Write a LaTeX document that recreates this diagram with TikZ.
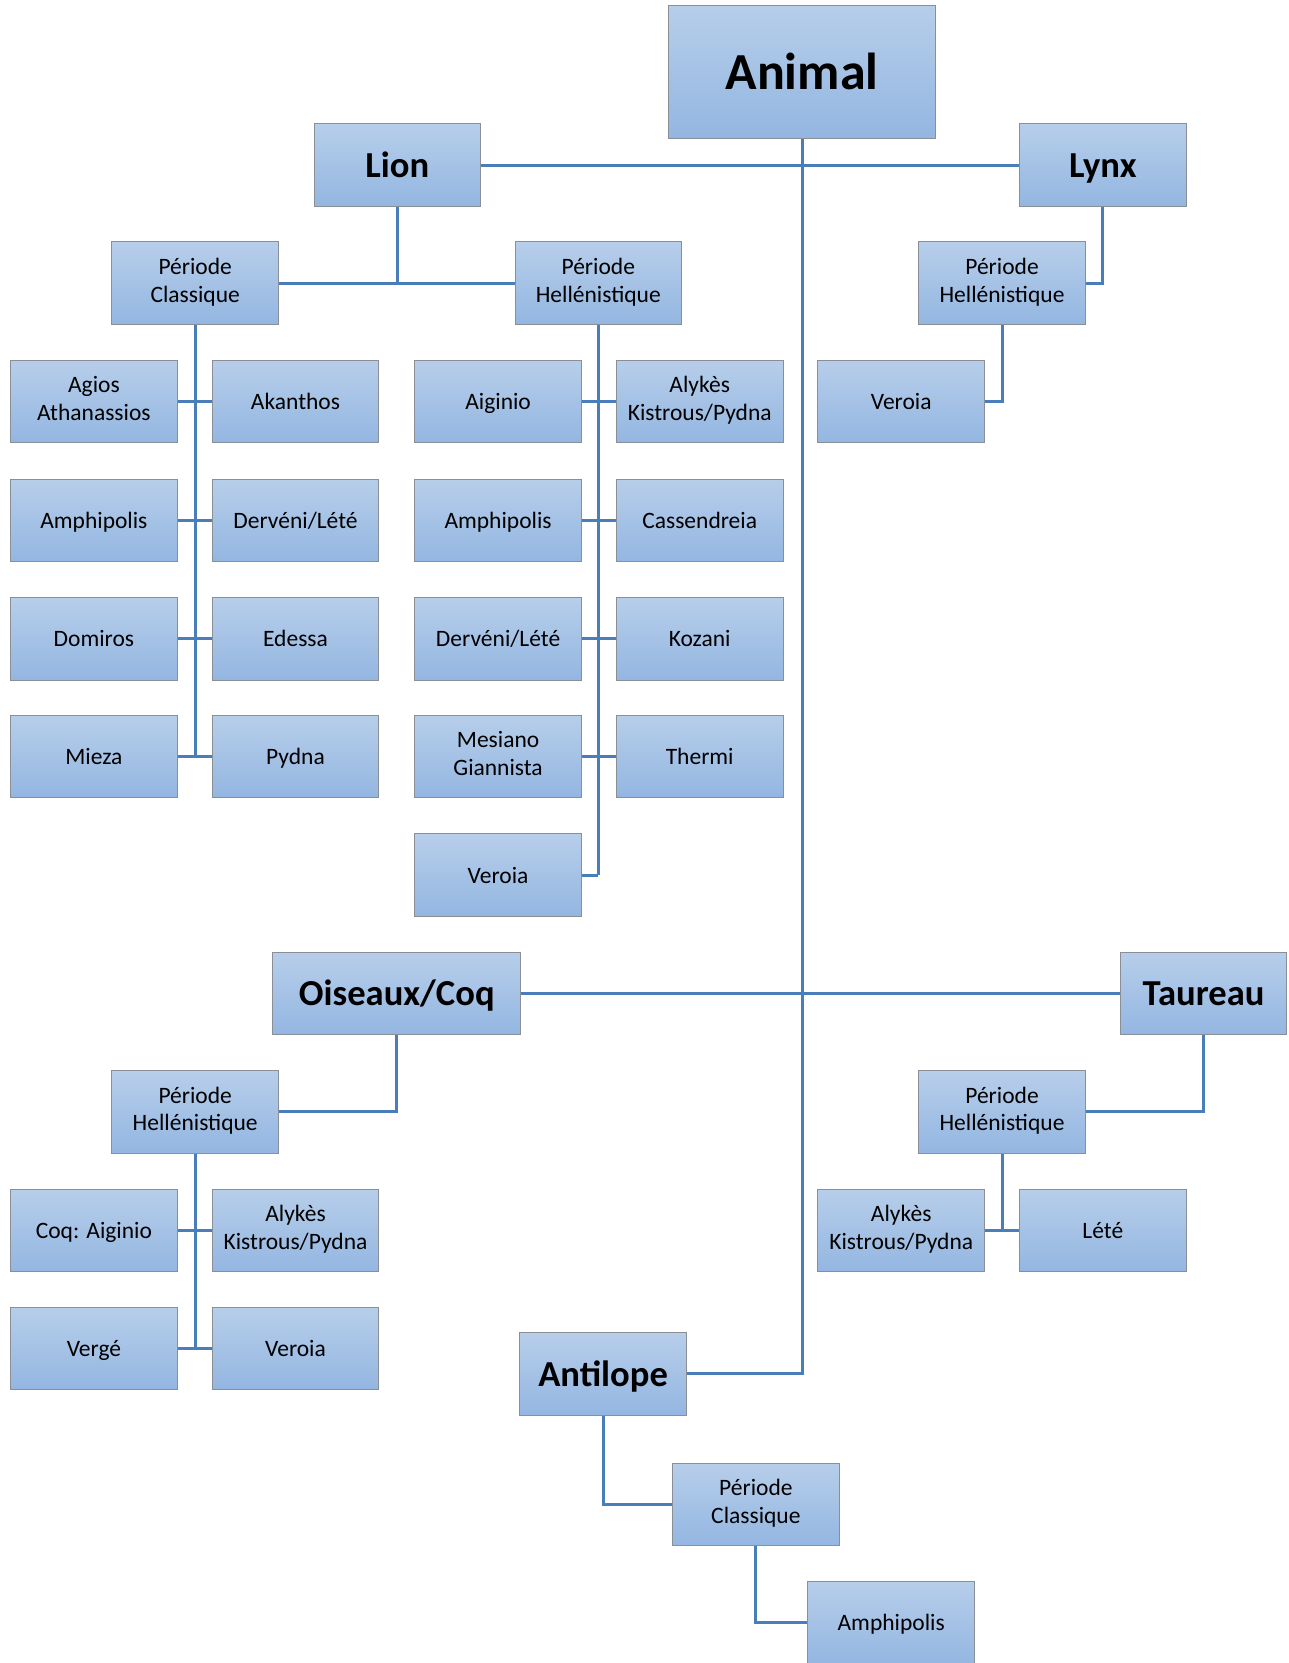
\documentclass[tikz,border=0pt]{standalone}
\usepackage{fontspec}
\setmainfont{Carlito}
\definecolor{boxtop}{HTML}{B7CEEA}
\definecolor{boxbot}{HTML}{93B6E1}
\definecolor{boxline}{HTML}{8A8F96}
\definecolor{linec}{HTML}{4A7EBB}
\begin{document}
\begin{tikzpicture}[x=1pt,y=-1pt,
  box/.style={draw=boxline, line width=1pt, top color=boxtop, bottom color=boxbot,
    minimum width=166.6pt, minimum height=82.7pt, align=center, inner sep=0pt,
    font=\fontsize{23.5}{27.5}\selectfont,
    execute at begin node={\rule{0pt}{0.95em}},
    execute at end node={\rule[-0.27em]{0pt}{0.27em}}},
  bigbox/.style={box, font=\fontsize{36.6}{40}\selectfont\bfseries},
  conn/.style={draw=linec, line width=3pt}]
\useasboundingbox (0,0) rectangle (1289,1663);
% level 0
\node[box, minimum width=267pt, minimum height=133pt, font=\fontsize{52}{56}\selectfont\bfseries] (animal) at (802,71.6) {Animal};
% level 1
\node[bigbox] (lion) at (397.3,165) {Lion};
\node[bigbox] (lynx) at (1102.8,165) {Lynx};
\node[bigbox, minimum width=248pt] (oiseaux) at (396.8,993.5) {Oiseaux/Coq};
\node[bigbox] (taureau) at (1203.6,993.5) {Taureau};
\node[bigbox] (antilope) at (603.1,1373.9) {Antilope};
% level 2
\node[box] (lpc) at (195.2,283.3) {Période\\Classique};
\node[box] (lph) at (598.3,283.3) {Période\\Hellénistique};
\node[box] (yph) at (1002,283.3) {Période\\Hellénistique};
\node[box] (oph) at (195.2,1111.8) {Période\\Hellénistique};
\node[box] (tph) at (1002,1111.8) {Période\\Hellénistique};
\node[box] (apc) at (755.9,1504.4) {Période\\Classique};
% Lion classique
\node[box] (a11) at (93.9,401.5) {Agios\\Athanassios};
\node[box] (a12) at (295.5,401.5) {Akanthos};
\node[box] (a21) at (93.9,520.4) {Amphipolis};
\node[box] (a22) at (295.5,520.4) {Dervéni/Lété};
\node[box] (a31) at (93.9,638.7) {Domiros};
\node[box] (a32) at (295.5,638.7) {Edessa};
\node[box] (a41) at (93.9,756.4) {Mieza};
\node[box] (a42) at (295.5,756.4) {Pydna};
% Lion hellenistique
\node[box] (b11) at (498.1,401.5) {Aiginio};
\node[box] (b12) at (699.7,401.5) {Alykès\\Kistrous/Pydna};
\node[box] (b21) at (498.1,520.4) {Amphipolis};
\node[box] (b22) at (699.7,520.4) {Cassendreia};
\node[box] (b31) at (498.1,638.7) {Dervéni/Lété};
\node[box] (b32) at (699.7,638.7) {Kozani};
\node[box] (b41) at (498.1,756.4) {Mesiano\\Giannista};
\node[box] (b42) at (699.7,756.4) {Thermi};
\node[box] (b51) at (498.1,875.2) {Veroia};
% Lynx
\node[box] (y11) at (901.2,401.5) {Veroia};
% Oiseaux
\node[box] (o11) at (93.9,1230.6) {Coq: Aiginio};
\node[box] (o12) at (295.5,1230.6) {Alykès\\Kistrous/Pydna};
\node[box] (o21) at (93.9,1348.4) {Vergé};
\node[box] (o22) at (295.5,1348.4) {Veroia};
% Taureau
\node[box] (t11) at (901.2,1230.6) {Alykès\\Kistrous/Pydna};
\node[box] (t12) at (1102.8,1230.6) {Lété};
% Antilope
\node[box] (p11) at (891.2,1622.6) {Amphipolis};
% connectors
\draw[conn] (animal.south) |- (antilope.east);
\draw[conn] (lion.east) -- (lynx.west);
\draw[conn] (oiseaux.east) -- (taureau.west);
\draw[conn] (lion.south) -- (lion.south |- lpc.east);
\draw[conn] (lpc.east) -- (lph.west);
\draw[conn] (lpc.south) -- (lpc.south |- a41.east);
\foreach \r in {1,2,3,4}{\draw[conn] (a\r1.east) -- (a\r2.west);}
\draw[conn] (lph.south) -- (lph.south |- b51.east);
\foreach \r in {1,2,3,4}{\draw[conn] (b\r1.east) -- (b\r2.west);}
\draw[conn] (b51.east) -- (lph.south |- b51.east);
\draw[conn] (lynx.south) |- (yph.east);
\draw[conn] (yph.south) |- (y11.east);
\draw[conn] (oiseaux.south) |- (oph.east);
\draw[conn] (oph.south) -- (oph.south |- o21.east);
\foreach \r in {1,2}{\draw[conn] (o\r1.east) -- (o\r2.west);}
\draw[conn] (taureau.south) |- (tph.east);
\draw[conn] (tph.south) -- (tph.south |- t11.east);
\draw[conn] (t11.east) -- (t12.west);
\draw[conn] (antilope.south) |- (apc.west);
\draw[conn] (apc.south) |- (p11.west);
\end{tikzpicture}
\end{document}
